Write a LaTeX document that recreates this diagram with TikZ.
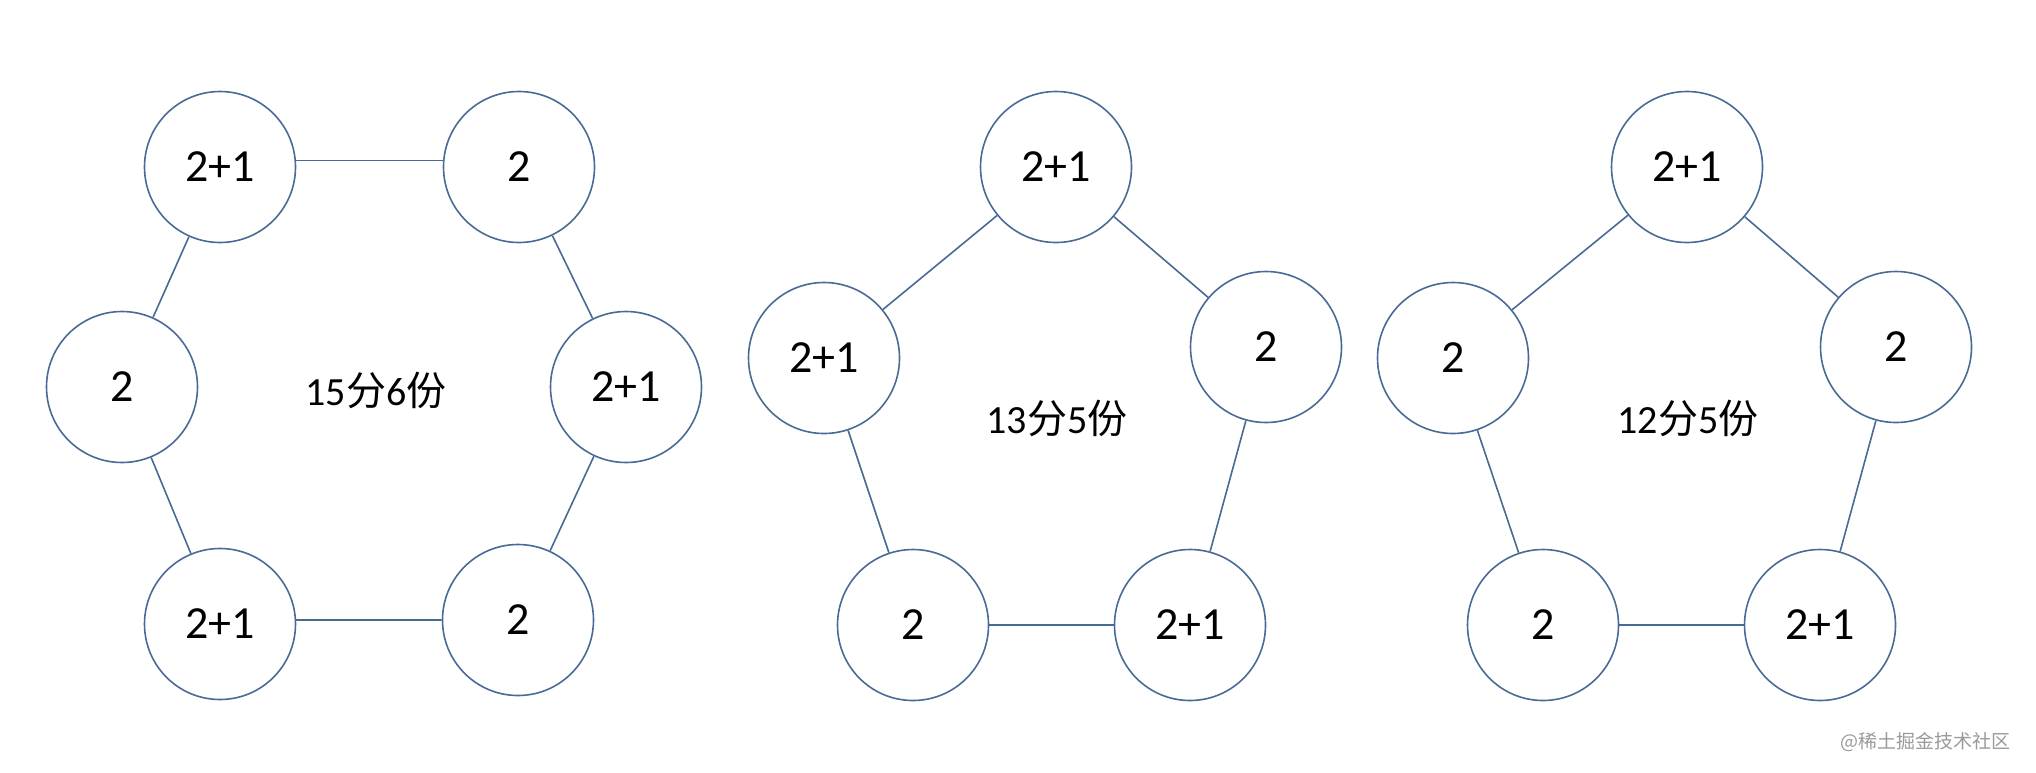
\documentclass[tikz,border=0pt]{standalone}
\usepackage{fontspec}
\setmainfont{Carlito}
\newfontfamily\cjk{Noto Sans CJK SC}
\newcommand{\zh}[1]{{\cjk #1}}
\definecolor{lc}{HTML}{4A6A96}
\definecolor{wm}{HTML}{9A9A9A}
\tikzset{
  ball/.style={circle, draw=lc, line width=1.6pt, minimum size=151pt, inner sep=0pt, font=\fontsize{46}{46}\selectfont, text=black},
  link/.style={draw=lc, line width=1.6pt},
  mid/.style={font=\fontsize{40}{40}\selectfont, text=black},
  wmark/.style={font=\fontsize{19}{19}\selectfont\cjk, text=wm, anchor=east}
}
\begin{document}
\begin{tikzpicture}[x=1pt, y=-1pt]
\useasboundingbox (0,0) rectangle (2036,772);
% hexagon
\node[ball] (h1) at (220,167) {2+1};
\node[ball] (h2) at (519,167) {2};
\node[ball] (h3) at (626,387) {2+1};
\node[ball] (h4) at (518,620) {2};
\node[ball] (h5) at (220,624) {2+1};
\node[ball] (h6) at (122,387) {2};
\node[mid] (ht) at (376,390) {15\zh{分}6\zh{份}};
\draw[link] (h1.5) -- (h2.175);
\draw[link] (h2) -- (h3);
\draw[link] (h3) -- (h4);
\draw[link] (h4.180) -- (h5.3);
\draw[link] (h5) -- (h6);
\draw[link] (h6) -- (h1);
% pentagon 1
\node[ball] (a1) at (1056,167) {2+1};
\node[ball] (a2) at (1266,347) {2};
\node[ball] (a3) at (1190,625) {2+1};
\node[ball] (a4) at (913,625) {2};
\node[ball] (a5) at (824,358) {2+1};
\node[mid] (at) at (1057,418) {13\zh{分}5\zh{份}};
\draw[link] (a1) -- (a2);
\draw[link] (a2) -- (a3);
\draw[link] (a3) -- (a4);
\draw[link] (a4) -- (a5);
\draw[link] (a5) -- (a1);
% pentagon 2
\node[ball] (b1) at (1687,167) {2+1};
\node[ball] (b2) at (1896,347) {2};
\node[ball] (b3) at (1820,625) {2+1};
\node[ball] (b4) at (1543,625) {2};
\node[ball] (b5) at (1453,358) {2};
\node[mid] (bt) at (1688,418) {12\zh{分}5\zh{份}};
\draw[link] (b1) -- (b2);
\draw[link] (b2) -- (b3);
\draw[link] (b3) -- (b4);
\draw[link] (b4) -- (b5);
\draw[link] (b5) -- (b1);
% watermark
\node[wmark] (wm) at (2014,742) {@稀土掘金技术社区};
\end{tikzpicture}
\end{document}
